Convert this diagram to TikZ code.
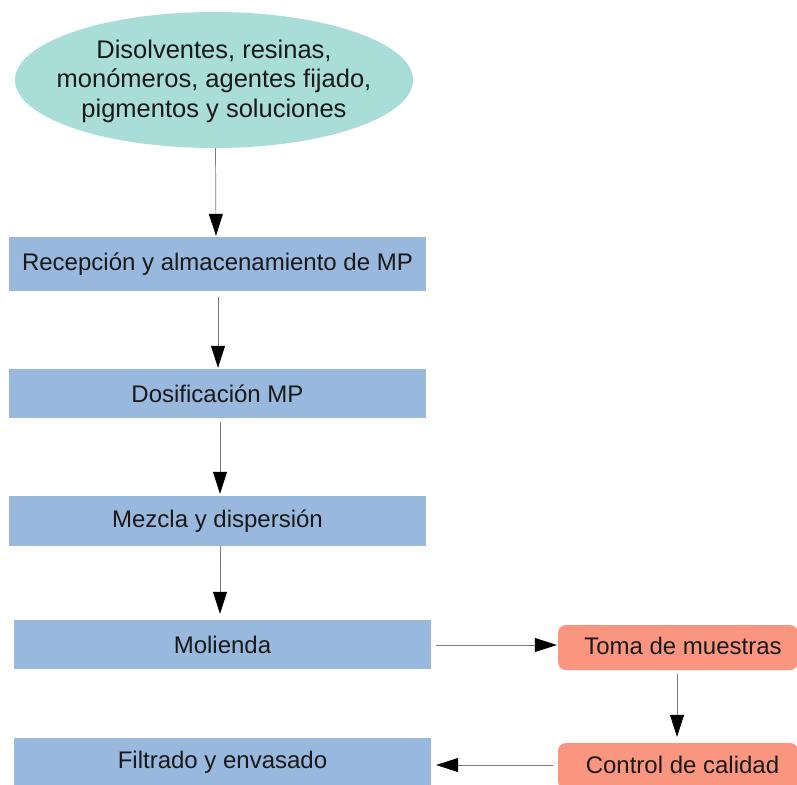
\documentclass[tikz,border=0pt]{standalone}
\usepackage{fontspec}
\setmainfont{Liberation Sans}
\usetikzlibrary{arrows.meta,shapes.geometric}
\definecolor{tealfill}{HTML}{A9DDD8}
\definecolor{bluefill}{HTML}{99B8DD}
\definecolor{salmonfill}{HTML}{FA9680}
\definecolor{linegray}{HTML}{7A7A7A}
\begin{document}
\begin{tikzpicture}[x=1pt,y=-1pt,
  every node/.style={font=\fontsize{24}{29}\selectfont, text=black!90},
  bluebox/.style={fill=bluefill, draw=none, inner sep=0pt},
  salbox/.style={fill=salmonfill, draw=none, rounded corners=8pt, inner sep=0pt},
  conn/.style={draw=linegray, line width=0.7pt, -{Triangle[length=22pt,width=14pt,fill=black,color=black]}}]
\useasboundingbox (0,0) rectangle (797,784);
\clip (0,0) rectangle (797,784);
\node[ellipse, fill=tealfill, minimum width=398pt, minimum height=136pt, inner sep=0pt] (src) at (214,80) {};
\node[align=center, font=\fontsize{25.5}{29.5}\selectfont] (srct) at (214,81)
  {Disolventes, resinas,\\monómeros, agentes fijado,\\pigmentos y soluciones};
\node[bluebox, minimum width=417pt, minimum height=54pt] (rec) at (217.5,264) {Recepción y almacenamiento de MP};
\node[bluebox, minimum width=417pt, minimum height=49pt] (dos) at (217.5,393.5) {Dosificación MP};
\node[bluebox, minimum width=417pt, minimum height=50pt] (mez) at (217.5,521) {Mezcla y dispersión};
\node[bluebox, minimum width=417pt, minimum height=49pt] (mol) at (222.5,644.5) {Molienda};
\node[salbox, minimum width=240pt, minimum height=45pt] (toma) at (678,647.5) {};
\node (tomat) at (683,646) {Toma de muestras};
\node[bluebox, minimum width=417pt, minimum height=52pt] (fil) at (222.5,764) {};
\node (filt) at (222.5,762) {Filtrado y envasado};
\node[salbox, minimum width=240pt, minimum height=46pt] (ctrl) at (678,766) {};
\node (ctrlt) at (682.5,765) {Control de calidad};
\draw[conn, shorten >=1pt] ([xshift=1.5pt]src.south) -- ([xshift=-1.5pt]rec.north);
\draw[conn, shorten <=6pt, shorten >=1pt] ([xshift=0.5pt]rec.south) -- ([xshift=0.5pt]dos.north);
\draw[conn, shorten <=4pt, shorten >=2pt] ([xshift=2.5pt]dos.south) -- ([xshift=2.5pt]mez.north);
\draw[conn, shorten >=6pt] ([xshift=2.5pt]mez.south) -- ([xshift=-2.5pt]mol.north);
\draw[conn, shorten <=5pt, shorten >=1pt] ([yshift=-0.5pt]mol.east) -- ([yshift=-0.5pt]mol.east -| toma.west);
\draw[conn, shorten <=4pt, shorten >=6pt] ([xshift=-1pt]toma.south) -- ([xshift=-1pt]ctrl.north);
\draw[conn, shorten <=5pt, shorten >=5pt] ([yshift=1pt]ctrl.west) -- ([yshift=1pt]ctrl.west -| fil.east);
\end{tikzpicture}
\end{document}
